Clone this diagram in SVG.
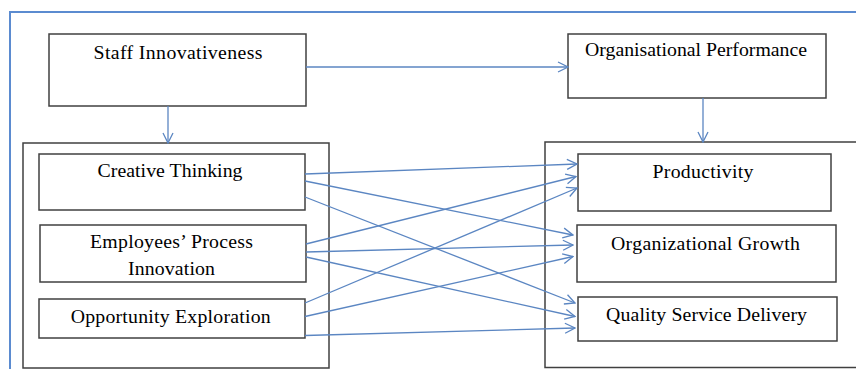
<svg xmlns="http://www.w3.org/2000/svg" width="856" height="369" viewBox="0 0 856 369">
<style>
.box{fill:#fff;stroke:#404040;stroke-width:1.5}
.cont{fill:none;stroke:#404040;stroke-width:1.5}
.frame{fill:none;stroke:#5B8BD0;stroke-width:2}
.lbl{font-family:"Liberation Serif","Times New Roman",serif;font-size:19.8px;fill:#000;text-anchor:middle}
.con{fill:none;stroke:#5B86C2;stroke-width:1.3;marker-end:url(#arr)}
</style>
<defs>
<marker id="arr" viewBox="0 0 12 12" refX="11" refY="6" markerWidth="12" markerHeight="12" markerUnits="userSpaceOnUse" orient="auto">
<path d="M1,1 L11,6 L1,11" fill="none" stroke="#5B86C2" stroke-width="1.3"/>
</marker>
</defs>
<rect width="856" height="369" fill="#fff"/>
<rect class="frame" x="10" y="12" width="860" height="370"/>
<g id="left-container"><rect class="cont" x="23" y="143" width="306" height="225"/></g>
<g id="right-container"><rect class="cont" x="545" y="142" width="330" height="225.5"/></g>
<g id="staff-innovativeness">
<rect class="box" x="49" y="34" width="257" height="72"/>
<text class="lbl" x="178" y="59" textLength="169" lengthAdjust="spacing">Staff Innovativeness</text>
</g>
<g id="organisational-performance">
<rect class="box" x="568" y="34" width="258" height="64"/>
<text class="lbl" x="696" y="56" textLength="222" lengthAdjust="spacing">Organisational Performance</text>
</g>
<g id="creative-thinking">
<rect class="box" x="39" y="154" width="266" height="56"/>
<text class="lbl" x="170" y="177" textLength="145" lengthAdjust="spacing">Creative Thinking</text>
</g>
<g id="employees-process-innovation">
<rect class="box" x="40" y="225" width="266" height="57"/>
<text class="lbl" x="171.5" y="248" textLength="163" lengthAdjust="spacing">Employees’ Process</text>
<text class="lbl" x="171.5" y="275" textLength="87" lengthAdjust="spacing">Innovation</text>
</g>
<g id="opportunity-exploration">
<rect class="box" x="39" y="299" width="266" height="39"/>
<text class="lbl" x="170.7" y="323" textLength="200" lengthAdjust="spacing">Opportunity Exploration</text>
</g>
<g id="productivity">
<rect class="box" x="578" y="154" width="253" height="57"/>
<text class="lbl" x="703" y="178" textLength="101" lengthAdjust="spacing">Productivity</text>
</g>
<g id="organizational-growth">
<rect class="box" x="577" y="225" width="259" height="57"/>
<text class="lbl" x="705.5" y="250" textLength="189" lengthAdjust="spacing">Organizational Growth</text>
</g>
<g id="quality-service-delivery">
<rect class="box" x="578" y="297" width="259" height="44"/>
<text class="lbl" x="706.5" y="321" textLength="201" lengthAdjust="spacing">Quality Service Delivery</text>
</g>
<g id="connectors">
<line class="con" x1="168" y1="106" x2="168" y2="143"/>
<line class="con" x1="703" y1="98" x2="703" y2="142"/>
<line class="con" x1="306" y1="67" x2="568" y2="67"/>
<line class="con" x1="305" y1="174" x2="577" y2="164"/>
<line class="con" x1="305" y1="181" x2="573" y2="235"/>
<line class="con" x1="305" y1="197" x2="575" y2="303"/>
<line class="con" x1="306" y1="244" x2="576" y2="176.5"/>
<line class="con" x1="306" y1="252" x2="573" y2="245"/>
<line class="con" x1="306" y1="257" x2="575" y2="316.5"/>
<line class="con" x1="305" y1="303" x2="577" y2="188"/>
<line class="con" x1="305" y1="316.5" x2="573" y2="256.5"/>
<line class="con" x1="305" y1="335.5" x2="575" y2="328"/>
</g>
</svg>
